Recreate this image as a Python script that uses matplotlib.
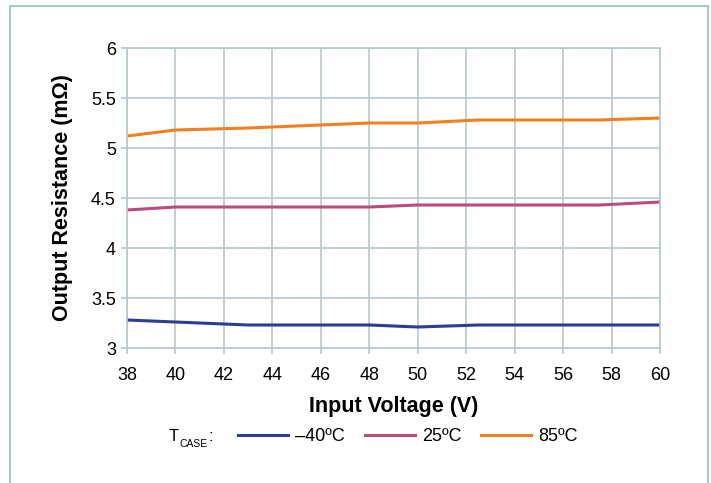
import matplotlib
matplotlib.use("Agg")
import matplotlib.pyplot as plt
from matplotlib.patches import Rectangle

plt.rcParams["font.family"] = ["Liberation Sans", "DejaVu Sans"]

# tension d'entrée (V) et résistance de sortie (mOhm) par température de boîtier
tension = [38, 40, 43, 45, 48, 50, 52.5, 55, 57.5, 60]
r_moins40 = [3.28, 3.26, 3.23, 3.23, 3.23, 3.21, 3.23, 3.23, 3.23, 3.23]
r_25 = [4.38, 4.41, 4.41, 4.41, 4.41, 4.43, 4.43, 4.43, 4.43, 4.46]
r_85 = [5.12, 5.18, 5.20, 5.22, 5.25, 5.25, 5.28, 5.28, 5.28, 5.30]

series = [
    ("\u201340\u00baC", r_moins40, "#2b3d94"),
    ("25\u00baC", r_25, "#b84d7e"),
    ("85\u00baC", r_85, "#f47f20"),
]

xticks = list(range(38, 61, 2))
yticks = [3, 3.5, 4, 4.5, 5, 5.5, 6]
gris = "#b7c8cf"

fig = plt.figure(figsize=(7.11, 4.83), dpi=100)
ax = fig.add_axes([0.1786, 0.2795, 0.7497, 0.6211])

for label, valeurs, couleur in series:
    ax.plot(tension, valeurs, color=couleur, linewidth=2.2, label=label)

ax.set_xlim(38, 60)
ax.set_ylim(3, 6)
ax.set_xticks(xticks)
ax.set_yticks(yticks)
ax.set_yticklabels(["3", "3.5", "4", "4.5", "5", "5.5", "6"])
ax.grid(True, color=gris, linewidth=1.2)
ax.set_axisbelow(True)
for s in ax.spines.values():
    s.set_color(gris)
    s.set_linewidth(1.2)
ax.tick_params(colors=gris, labelcolor="black", labelsize=13, length=4, width=1.2)
ax.tick_params(axis="y", pad=4)
ax.tick_params(axis="x", pad=9.5)

ax.set_xlabel("Input Voltage (V)", fontsize=15.5, fontweight="bold", labelpad=9)
ax.set_ylabel("Output Resistance (m\u03a9)", fontsize=15.5, fontweight="bold", labelpad=13)

# légende sur une ligne, précédée de T_CASE
fig.text(0.237, 0.087, "T", fontsize=12, va="baseline", ha="left")
fig.text(0.2525, 0.074, "CASE", fontsize=7.5, va="baseline", ha="left")
fig.text(0.2935, 0.087, ":", fontsize=12, va="baseline", ha="left")
fig.legend(loc="center left", bbox_to_anchor=(0.3125, 0.096), ncol=3, frameon=False,
           fontsize=13, handlelength=2.75, handletextpad=0.4, columnspacing=1.1)

# cadre autour de la figure
fig.patches.append(Rectangle((10 / 711, -0.05), 698 / 711, 1.05 - 6 / 483,
                             transform=fig.transFigure, fill=False,
                             edgecolor="#a9c6cd", linewidth=1.5))

fig.savefig("out.png", dpi=100)
